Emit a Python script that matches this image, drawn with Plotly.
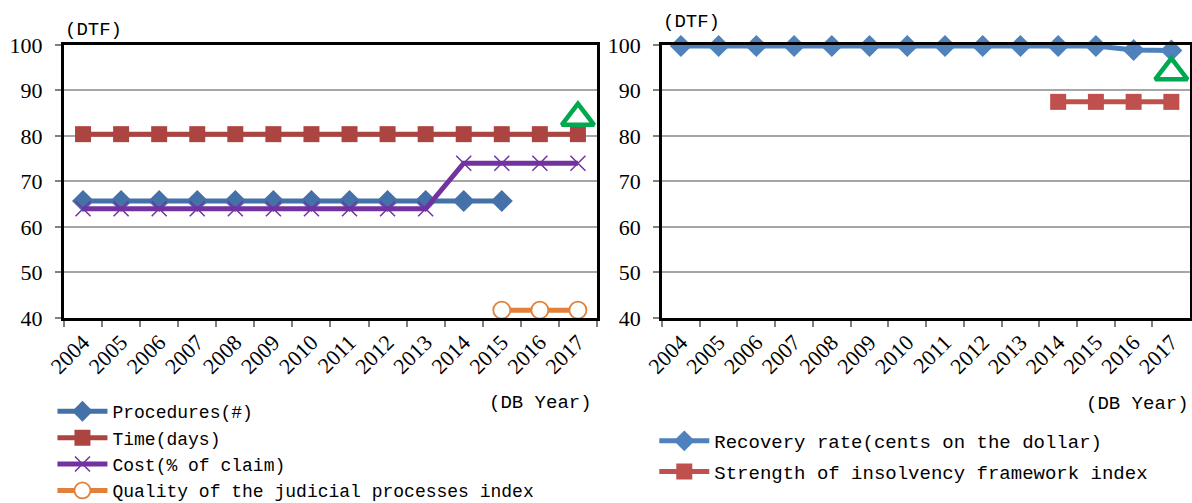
import plotly.graph_objects as go

years = [str(y) for y in range(2004, 2018)]

# Resolving insolvency: component scores (distance to frontier)
procedures = [65.7] * 12 + [None, None]
time_days = [80.4] * 14
cost_claim = [64.0] * 10 + [74.0] * 4
quality_judicial = [None] * 11 + [41.7] * 3
left_marker_year = ["2017"]
left_marker_val = [84.0]

recovery_rate = [99.8] * 12 + [98.9, 98.8]
strength_index = [None] * 10 + [87.5] * 4
right_marker_year = ["2017"]
right_marker_val = [94.0]

left_names = ["Procedures(#)", "Time(days)", "Cost(% of claim)",
              "Quality of the judicial processes index"]
right_names = ["Recovery rate(cents on the dollar)",
               "Strength of insolvency framework index"]

MONO = "Liberation Mono"
SERIF = "Liberation Serif"

fig = go.Figure()

def add_series(x, y, name, color, symbol, size, xa, ya, legend, group,
               fill=None, mline=0, mlcolor=None):
    fig.add_trace(go.Scatter(
        x=x, y=y, name=name, mode="lines+markers",
        line=dict(color=color, width=5),
        marker=dict(symbol=symbol, size=size, color=fill or color,
                    line=dict(width=mline, color=mlcolor or color)),
        xaxis=xa, yaxis=ya, legend=legend, legendgroup=group,
        connectgaps=False, cliponaxis=False))

add_series(years, procedures, left_names[0], "#4471A8", "diamond", 17, "x", "y", "legend", "a")
add_series(years, time_days, left_names[1], "#AC4441", "square", 16, "x", "y", "legend", "b")
add_series(years, cost_claim, left_names[2], "#7232A0", "x-thin", 15, "x", "y", "legend", "c",
           mline=1.5, mlcolor="#7232A0")
add_series(years, quality_judicial, left_names[3], "#E0803A", "circle", 17, "x", "y", "legend", "d",
           fill="white", mline=1.8, mlcolor="#E0803A")

fig.add_trace(go.Scatter(
    x=left_marker_year, y=left_marker_val, mode="markers", showlegend=False,
    marker=dict(symbol="triangle-up-open", size=28, color="#00A94F",
                line=dict(width=4.5, color="#00A94F")),
    xaxis="x", yaxis="y", cliponaxis=False))

add_series(years, recovery_rate, right_names[0], "#4F81BD", "diamond", 17, "x2", "y2", "legend2", "e")
add_series(years, strength_index, right_names[1], "#C0504D", "square", 16, "x2", "y2", "legend2", "f")

fig.add_trace(go.Scatter(
    x=right_marker_year, y=right_marker_val, mode="markers", showlegend=False,
    marker=dict(symbol="triangle-up-open", size=28, color="#00A94F",
                line=dict(width=4.5, color="#00A94F")),
    xaxis="x2", yaxis="y2", cliponaxis=False))

xcommon = dict(
    type="category", categoryorder="array", categoryarray=years,
    range=[-0.5, 13.5], tickson="boundaries", ticks="outside", ticklen=6,
    tickcolor="#808080", tickwidth=1.5, tickangle=-45,
    tickfont=dict(family=SERIF, size=22, color="black"),
    showgrid=False, showline=True, linecolor="black", linewidth=3,
    mirror=True, zeroline=False, fixedrange=True, automargin=False)
ycommon = dict(
    range=[40, 100], dtick=10, ticks="outside", ticklen=6,
    tickcolor="#808080", tickwidth=1.5, ticklabelstandoff=8,
    tickfont=dict(family=SERIF, size=22, color="black"),
    showgrid=True, gridcolor="#A6A6A6", gridwidth=1.5,
    showline=True, linecolor="black", linewidth=3, mirror=True,
    zeroline=False, fixedrange=True, automargin=False)

fig.update_layout(
    width=1192, height=503,
    margin=dict(l=0, r=0, t=0, b=0, autoexpand=False),
    paper_bgcolor="white", plot_bgcolor="white",
    xaxis=dict(domain=[0.0537, 0.5008], anchor="y", **xcommon),
    yaxis=dict(domain=[0.368, 0.9105], anchor="x", **ycommon),
    xaxis2=dict(domain=[0.5554, 0.9985], anchor="y2", **xcommon),
    yaxis2=dict(domain=[0.368, 0.9105], anchor="x2", **ycommon),
    legend=dict(x=0.044, y=0.2186, xanchor="left", yanchor="top",
                font=dict(family=MONO, size=18, color="black"),
                itemwidth=50, tracegroupgap=0, bgcolor="rgba(0,0,0,0)"),
    legend2=dict(x=0.5489, y=0.161, xanchor="left", yanchor="top",
                 font=dict(family=MONO, size=19, color="black"),
                 itemwidth=50, tracegroupgap=3, bgcolor="rgba(0,0,0,0)"),
    showlegend=True,
)

label_font = dict(family=MONO, size=19, color="black")
fig.add_annotation(text="(DTF)", xref="paper", yref="paper", x=0.053, y=0.915,
                   xanchor="left", yanchor="bottom", showarrow=False, font=label_font)
fig.add_annotation(text="(DB Year)", xref="paper", yref="paper", x=0.498, y=0.198,
                   xanchor="right", yanchor="middle", showarrow=False, font=label_font)
fig.add_annotation(text="(DTF)", xref="paper", yref="paper", x=0.5545, y=0.93,
                   xanchor="left", yanchor="bottom", showarrow=False, font=label_font)
fig.add_annotation(text="(DB Year)", xref="paper", yref="paper", x=0.9995, y=0.197,
                   xanchor="right", yanchor="middle", showarrow=False, font=label_font)

fig.write_html("out.html")
